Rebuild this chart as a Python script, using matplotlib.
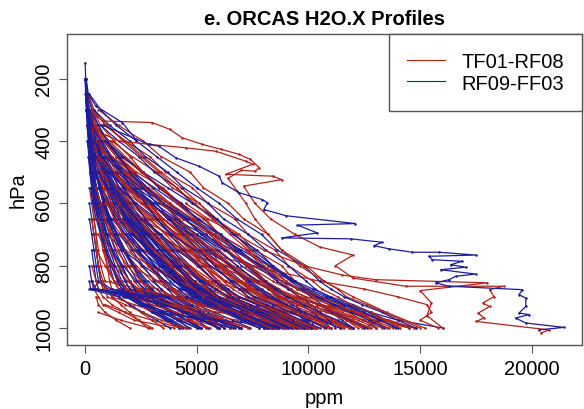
import numpy as np
import matplotlib
matplotlib.use("Agg")
import matplotlib.pyplot as plt
from matplotlib.lines import Line2D

plt.rcParams['font.family'] = ['Liberation Sans', 'DejaVu Sans']

N = None
TITLE = "e. ORCAS H2O.X Profiles"
XLABEL = "ppm"
YLABEL = "hPa"
SERIES = ["TF01-RF08", "RF09-FF03"]
RED = "#B0231B"
BLUE = "#1C1C9C"
XTICKS = [0, 5000, 10000, 15000, 20000]
YTICKS = [200, 400, 600, 800, 1000]

# pressure levels (hPa) shared by the gridded profiles
P_LEVELS = [150, 200, 250, 300, 350, 400, 450, 500, 550, 600, 650, 700, 750,
            800, 850, 875, 900, 925, 950, 975, 1000]

# TF01-RF08 profiles, H2O (ppm) at P_LEVELS
red_ppm = [
    [N, 40, 120, 350, 700, 1300, 2000, 2600, 3300, 4200, 5000, 5600, 6300, 7200, 8000, 8600, 9500, 10400, 11300, 12200, 13000],
    [N, N, 80, 200, 400, 700, 1100, 1600, 2200, 2900, 3500, 4300, 5100, 5900, 6700, 7100, 7500, 8200, 8900, 9500, 10100],
    [N, N, N, 150, 300, 500, 800, 1200, 1500, 1900, 2400, 3000, 3700, 4200, 4900, 5400, 5900, 6600, 7100, 7600, 8100],
    [N, N, N, N, 250, 350, 450, 600, 900, 1300, 1600, 2000, 2600, 3100, 3500, 3800, 4200, 4700, 5300, 5800, 6200],
    [N, N, N, N, N, 300, 400, 500, 700, 800, 1000, 1200, 1500, 1800, 2200, 2500, 2900, 3300, 3800, 4200, 4600],
    [N, N, 60, 150, 250, 400, 700, 1100, 1800, 2500, 3300, 4100, 4800, 5300, 5900, 6200, 6500, 7400, 8300, 9000, 9800],
    [N, N, N, 100, 200, 300, 500, 900, 1300, 2000, 2800, 3700, 4600, 5600, 6600, 7200, 7800, 8600, 9600, 10400, 11000],
    [N, N, N, N, 200, 250, 300, 400, 500, 500, 600, 800, 900, 1000, 1100, 1200, 3000, 4200, 5000, 5600, 6000],
    [N, N, N, N, N, 200, 300, 400, 500, 600, 600, 700, 800, 1000, 1300, 1500, 1700, 3500, 5200, 6800, 7800],
    [N, N, N, 120, 400, 900, 1500, 2200, 3000, 3800, 4500, 5200, 6000, 6800, 7600, 8300, 9000, 10000, 11000, 11800, 12500],
    [N, N, N, N, 300, 600, 1000, 1400, 1800, 2200, 2700, 3200, 3600, 4100, 4700, 5200, 5800, 6500, 7200, 7800, 8500],
    [N, N, N, N, N, N, 200, 300, 300, 400, 400, 500, 500, 600, 700, 800, 1500, 2000, 2500, 3000, 3500],
    [N, N, N, N, N, 300, 600, 800, 1100, 1500, 2000, 2500, 3100, 3800, 4500, 5000, 5500, 6200, 7000, 7500, 8000],
    [N, N, N, N, N, N, 400, 700, 1000, 1600, 2200, 2900, 3600, 4400, 5400, 5900, 6400, 7300, 8200, 8800, 9400],
    [N, N, 150, 400, 900, 1800, 2600, 3400, 4300, 5100, 5900, 6700, 7400, 8200, 9000, 9600, 10300, 11200, 12100, 12900, 13800],
    [N, N, N, N, N, N, N, 300, 500, 700, 900, 1300, 1700, 2100, 2600, 3000, 3400, 3800, 4300, 4700, 5200],
    [N, N, N, N, N, N, N, N, 200, 300, 400, 500, 600, 700, 900, 2500, 3200, 3800, 4400, 5000, 5500],
    [N, N, N, N, 200, 500, 1000, 1500, 2100, 2700, 3400, 4000, 4800, 5500, 6300, 6900, 7600, 8600, 9800, 10800, 11800],
    [N, N, N, N, N, N, 500, 900, 1400, 1900, 2600, 3400, 4200, 5000, 5800, 6300, 6900, 7800, 8800, 9600, 10400],
    [N, N, N, N, N, N, N, N, 400, 700, 1100, 1600, 2000, 2500, 3200, 3700, 4300, 5000, 5700, 6300, 7000],
    [N, N, N, N, N, N, N, N, N, N, 300, 400, 500, 600, 800, 1000, 1200, 1600, 2000, 2400, 2800],
    [N, N, N, N, N, N, N, 400, 700, 1200, 1800, 2500, 3200, 4000, 4900, 5400, 6000, 7200, 8300, 9200, 10000],
    [N, N, N, N, N, 400, 800, 1300, 1900, 2600, 3300, 4000, 4700, 5300, 6000, 6400, 6800, 7800, 9000, 10400, 11500],
    [N, N, N, N, N, N, N, N, N, N, N, N, N, 300, 500, 600, 800, 1200, 1800, 2400, 3000],
    [N, N, N, N, N, N, N, N, 600, 1000, 1600, 2300, 3100, 3900, 4800, 5300, 5800, 6600, 7500, 8300, 9200],
    [N, N, N, N, N, N, N, N, N, 500, 800, 1200, 1700, 2300, 3000, 3400, 3900, 4500, 5100, 5700, 6200],
    [N, N, N, N, N, N, N, N, N, N, N, 600, 900, 1300, 1900, 2300, 2600, 3300, 4100, 4800, 5400],
    [N, N, N, N, N, N, N, N, N, N, N, N, 500, 900, 1300, 1700, 2100, 3500, 4800, 6000, 7000],
    [N, N, N, N, N, N, N, N, N, N, N, N, N, N, 300, 400, 600, 800, 1500, 2200, 4000],
    [N, N, N, N, N, N, N, N, 1500, 2500, 3500, 4500, 5500, 6600, 7800, 8500, 9300, 10500, 11800, 13000, 14500],
    [N, N, N, N, N, N, N, N, N, N, N, 3000, 4500, 6000, 7500, 8400, 9300, 10500, 11500, 12500, 13000],
    [N, N, N, N, N, N, N, N, N, N, N, N, 5000, 7500, 10500, 12500, 14000, 15300, 15500, 15000, 15800],
    [N, N, N, 200, 500, 1000, 1700, 2500, 3400, 4300, 5300, 6000, 6600, 7300, 8100, 8300, 8800, 9500, 10400, 11200, 12000],
    [N, N, N, N, 350, 800, 1400, 2100, 2600, 3500, 4100, 4700, 5600, 6100, 6900, 7300, 7900, 8500, 9300, 10000, 10700],
    [N, N, N, N, N, 500, 900, 1600, 2400, 2900, 3800, 4600, 5200, 6100, 6800, 7400, 8100, 8900, 9900, 10800, 11600],
    [N, N, N, N, N, N, 700, 1200, 1900, 2800, 3500, 4400, 5300, 5900, 6900, 7600, 8300, 9200, 10100, 11000, 11900],
    [N, N, N, N, N, N, N, 800, 1500, 2200, 3000, 3900, 4500, 5400, 6200, 6600, 7200, 8000, 8700, 9300, 9900],
    [N, N, N, N, N, N, N, N, 900, 1500, 2300, 3100, 3900, 4500, 5400, 5800, 6500, 7300, 8200, 9100, 9900],
    [N, N, N, N, N, N, N, N, N, 1100, 1900, 2800, 3600, 4600, 5500, 6100, 6800, 7700, 8600, 9500, 10300],
    [N, N, N, N, N, N, N, N, N, N, 1300, 2200, 3200, 4100, 5200, 5800, 6500, 7400, 8400, 9200, 10100],
    [N, N, N, N, N, N, N, N, N, N, N, 1500, 2600, 3600, 4700, 5200, 6000, 7000, 8100, 9100, 10200],
    [N, N, N, N, N, N, N, N, N, N, N, N, 1800, 2900, 4100, 4800, 5600, 6500, 7600, 8600, 9600],
    [N, N, N, N, N, N, N, N, N, N, N, N, N, 2000, 3300, 4000, 4800, 5800, 6900, 7900, 8700],
    [N, N, N, N, N, N, N, N, N, N, N, N, N, N, 2400, 3200, 4000, 5100, 6300, 7400, 8300],
    [N, N, N, N, N, N, N, N, N, N, N, N, N, N, N, 1800, 2700, 3800, 5000, 6200, 7300],
    [N, N, N, N, N, N, N, N, N, N, N, N, N, N, N, N, 1200, 2200, 3300, 4500, 5600],
    [N, N, N, N, N, N, N, N, N, N, N, N, N, N, N, N, N, 900, 1800, 3000, 4300],
    [N, N, N, N, N, N, N, N, N, N, N, N, N, N, N, N, N, N, 600, 1600, 2900],
    [N, N, N, N, N, N, N, N, N, N, N, N, N, N, N, N, 500, 600, 900, 1400, 2000],
    [N, N, N, N, N, N, N, N, N, N, N, N, N, N, 700, 900, 1000, 1800, 2600, 3400, 4500],
    [N, N, N, N, N, N, N, N, N, N, N, N, 800, 1200, 1600, 1900, 2300, 3000, 4000, 5000, 6000],
    [N, N, N, N, N, N, N, N, N, N, 600, 800, 1100, 1500, 2000, 2400, 2800, 3600, 4600, 5500, 6500],
    [N, N, N, N, N, N, N, N, 500, 700, 900, 1100, 1400, 1900, 2500, 2800, 3300, 4100, 5200, 6300, 7300],
    [N, N, N, N, N, N, 500, 600, 800, 1000, 1300, 1700, 2200, 2800, 3500, 3900, 4400, 5300, 6400, 7500, 8600],
    [N, N, N, N, 300, 400, 600, 900, 1300, 1800, 2400, 3000, 3800, 4700, 5700, 6300, 6900, 8000, 9200, 10600, 12000],
    [N, N, N, 250, 500, 900, 1400, 2000, 2700, 3500, 4400, 5400, 6300, 7300, 8400, 9100, 9900, 11000, 12300, 13600, 14800],
    [N, N, N, N, N, N, N, N, N, N, N, N, N, N, 5500, 7000, 8300, 9600, 10800, 11900, 12800],
    [N, N, N, N, N, N, N, N, N, N, N, N, 4000, 5500, 7000, 7800, 8600, 9800, 11200, 12500, 13600],
    [N, N, N, N, N, N, N, N, N, N, 2500, 3800, 5000, 6300, 7600, 8400, 9200, 10600, 12000, 13400, 14700],
    [N, N, N, N, N, N, N, 1800, 2800, 3800, 4800, 5800, 6800, 7700, 8600, 9200, 9800, 10500, 11200, 11700, 12200],
    [N, N, N, N, N, N, N, N, N, N, N, N, N, N, N, N, N, 4000, 6000, 8000, 9500],
    [N, N, N, N, N, N, N, N, N, N, N, N, N, N, N, 2500, 4000, 5500, 7000, 8500, 10000],
    [N, N, N, 600, 1500, 2600, 3400, 4700, 5300, 6400, 7100, 8200, 8800, 9900, 10700, 11300, 11700, 12600, 13400, 14200, 15000],
    [N, N, N, N, 900, 1800, 2900, 3600, 4800, 5500, 6700, 7300, 8500, 9100, 10200, 10600, 11300, 11900, 12800, 13500, 14100],
    [N, N, N, N, N, 1200, 2100, 3200, 3900, 5100, 5800, 6900, 7600, 8800, 9400, 9900, 10500, 11400, 12000, 12900, 13500],
    [N, N, N, N, N, N, 1500, 2300, 3500, 4200, 5400, 6000, 7200, 7900, 9000, 9500, 10200, 10900, 11800, 12400, 13300],
    [N, N, N, N, N, N, N, 1700, 2600, 3700, 4400, 5600, 6300, 7400, 8100, 8700, 9200, 10100, 10900, 11700, 12400],
    [N, N, N, N, N, N, N, N, 2000, 2800, 3900, 4700, 5800, 6600, 7500, 8200, 8600, 9500, 10300, 11200, 11900],
    [N, N, N, N, N, N, N, N, N, 2200, 3100, 4200, 4900, 6000, 6800, 7500, 8100, 8800, 9800, 10500, 11400],
    [N, N, N, N, N, N, N, N, N, N, 2500, 3300, 4400, 5200, 6300, 6900, 7600, 8400, 9200, 10100, 10900],
    [N, N, N, N, N, N, N, N, N, N, N, 2700, 3600, 4600, 5500, 6200, 6900, 7800, 8700, 9500, 10400],
    [N, N, N, N, N, N, N, N, N, N, N, N, 2900, 3900, 4800, 5600, 6300, 7100, 8000, 9000, 9900],
    [N, N, N, N, N, N, N, N, N, N, N, N, N, 3100, 4200, 4900, 5700, 6500, 7500, 8400, 9300],
    [N, N, N, 300, 1000, 1700, 2500, 3300, 4100, 4900, 5700, 6500, 7300, 8000, 8800, 9200, 9600, 10400, 11200, 12000, 12700],
    [N, N, N, N, 400, 1100, 1800, 2600, 3400, 4100, 4900, 5700, 6400, 7200, 7900, 8300, 8800, 9500, 10300, 11000, 11800],
    [N, N, N, N, N, 500, 1200, 1900, 2700, 3400, 4200, 4900, 5700, 6400, 7200, 7500, 8000, 8800, 9500, 10300, 11000],
    [N, N, N, N, N, N, 600, 1300, 2000, 2800, 3500, 4300, 5000, 5800, 6500, 6900, 7300, 8000, 8800, 9500, 10300],
    [N, N, N, N, N, N, N, 700, 1400, 2100, 2900, 3600, 4300, 5100, 5800, 6200, 6600, 7300, 8100, 8800, 9600],
    [N, N, N, N, N, N, N, N, 800, 1500, 2200, 3000, 3700, 4400, 5200, 5500, 5900, 6700, 7400, 8200, 8900],
    [N, N, N, N, N, N, N, N, N, 900, 1600, 2300, 3100, 3800, 4500, 4900, 5300, 6000, 6800, 7500, 8300],
]

# RF09-FF03 profiles, H2O (ppm) at P_LEVELS
blue_ppm = [
    [10, 30, 80, 200, 350, 600, 900, 1300, 1700, 2200, 2700, 3300, 4000, 4700, 5400, 5900, 6400, 7100, 7900, 8600, 9300],
    [N, 20, 60, 150, 300, 450, 650, 900, 1200, 1500, 1900, 2300, 2800, 3400, 4000, 4400, 4800, 5600, 6500, 7300, 8000],
    [N, N, 40, 100, 200, 300, 450, 650, 900, 1200, 1500, 1900, 2400, 2900, 3500, 3900, 4300, 5000, 5800, 6600, 7400],
    [N, N, N, 80, 150, 250, 350, 500, 700, 900, 1100, 1400, 1700, 2100, 2500, 2800, 3100, 3700, 4500, 5300, 6000],
    [N, 30, 100, 300, 600, 1000, 1500, 2100, 2800, 3500, 4200, 4900, 5700, 6500, 7300, 7800, 8300, 9000, 9600, 10000, 10100],
    [N, N, N, 60, 120, 200, 300, 400, 500, 650, 800, 1000, 1200, 1500, 1800, 2000, 3800, 4500, 5000, 5500, 6000],
    [N, N, N, N, 100, 150, 200, 300, 400, 500, 600, 700, 900, 1100, 1300, 1500, 4200, 5200, 6200, 7300, 8200],
    [N, 15, 50, 120, 250, 400, 600, 850, 1150, 1500, 1900, 2400, 3000, 3600, 4300, 4700, 5200, 6000, 6900, 7700, 8500],
    [N, N, 30, 90, 180, 320, 500, 750, 1050, 1400, 1800, 2300, 2900, 3500, 4200, 4600, 5100, 5900, 6800, 7600, 8400],
    [N, N, N, N, N, 100, 180, 260, 380, 520, 700, 950, 1250, 1600, 2000, 2300, 2600, 3200, 3900, 4500, 5200],
    [N, N, N, N, N, N, 150, 220, 300, 420, 600, 850, 1200, 1700, 2300, 2700, 3200, 4000, 5000, 6000, 7000],
    [N, N, N, N, 200, 500, 1000, 1700, 2500, 3500, 4700, 5800, 7000, 8200, 9400, 10200, 11000, 12000, 12800, 13500, 14500],
    [N, N, N, N, N, 300, 700, 1300, 2000, 2900, 3900, 5000, 6200, 7500, 8800, 9600, 10400, 11500, 12400, 12800, 13000],
    [N, N, N, N, N, N, 500, 1000, 1800, 2800, 4000, 5300, 6600, 7900, 9300, 10000, 10800, 11800, 12700, 13300, 14000],
    [N, 20, 70, 180, 400, 750, 1200, 1700, 2300, 3000, 3700, 4500, 5300, 6200, 7000, 7500, 8000, 8800, 9400, 9800, 10000],
    [N, N, N, N, N, N, N, 300, 500, 700, 1000, 1300, 1700, 2200, 2800, 3200, 3600, 4300, 5200, 6000, 6900],
    [N, N, N, N, N, N, N, N, 250, 350, 500, 700, 900, 1200, 1500, 1800, 2100, 2600, 3200, 3700, 4200],
    [N, N, N, N, N, N, N, N, N, 200, 300, 400, 500, 600, 700, 300, 2500, 3200, 3900, 4500, 5100],
    [N, N, N, N, N, N, N, N, N, N, 200, 300, 400, 500, 600, 1000, 4000, 4800, 5500, 6200, 6900],
    [N, N, N, N, N, N, N, N, N, N, N, N, 300, 400, 500, 600, 2000, 2800, 3600, 4300, 5000],
    [N, N, N, N, N, N, N, N, N, N, N, N, N, 200, 300, 400, 3000, 3800, 4600, 5300, 5900],
    [N, N, N, N, N, 200, 400, 650, 950, 1300, 1750, 2250, 2800, 3400, 4100, 4600, 5100, 6000, 7000, 7900, 8800],
    [N, N, N, N, N, N, 300, 500, 750, 1050, 1400, 1800, 2300, 2900, 3600, 4000, 4500, 5300, 6200, 7000, 7800],
    [N, N, N, N, N, N, N, 400, 700, 1100, 1600, 2200, 2900, 3700, 4600, 5100, 5700, 6700, 7800, 8700, 9500],
    [N, N, N, N, N, N, N, N, 600, 1000, 1500, 2100, 2800, 3600, 4500, 5000, 5600, 6800, 8000, 9000, 9900],
    [N, N, N, N, N, N, N, N, N, 700, 1200, 1800, 2500, 3300, 4200, 4800, 5400, 6500, 7700, 8800, 9800],
    [N, N, N, N, N, N, N, N, N, N, 900, 1500, 2200, 3000, 4000, 4600, 5300, 6400, 7600, 8700, 9700],
    [N, N, N, N, N, N, N, N, N, N, N, 1000, 1700, 2600, 3600, 4300, 5000, 6300, 7500, 8600, 10000],
    [N, N, N, N, 300, 800, 1600, 2600, 3700, 4800, 5800, 6700, 7500, 8400, 9300, 9900, 10600, 11600, 12800, 14000, 16000],
    [N, N, N, N, N, 500, 1200, 2100, 3100, 4100, 5100, 6000, 6900, 7800, 8800, 9500, 10200, 11200, 12300, 13200, 12500],
    [N, N, N, N, N, N, N, N, N, N, N, N, N, N, 600, 1200, 2500, 3500, 4500, 5500, 6500],
    [N, N, N, N, N, N, N, N, N, N, N, N, N, N, N, 200, 1500, 2000, 2600, 3200, 3800],
    [N, 10, 40, 100, 220, 380, 580, 800, 1000, 1300, 1600, 2000, 2400, 2900, 3400, 3700, 4000, 4600, 5300, 5900, 6500],
    [N, N, 20, 70, 150, 270, 420, 600, 800, 1050, 1350, 1700, 2100, 2600, 3100, 3400, 3700, 4300, 5000, 5600, 6200],
    [N, N, N, 50, 120, 220, 340, 480, 650, 850, 1100, 1400, 1750, 2150, 2600, 2900, 3200, 3800, 4400, 5000, 5500],
    [N, 10, 30, 80, 160, 260, 380, 520, 700, 900, 1150, 1450, 1800, 2200, 2700, 3000, 3300, 3900, 4600, 5300, 6000],
    [N, N, 25, 70, 140, 230, 340, 470, 630, 820, 1050, 1300, 1600, 1950, 2350, 2600, 2900, 3400, 4000, 4600, 5200],
    [N, N, N, 60, 110, 190, 280, 390, 520, 680, 870, 1100, 1350, 1650, 2000, 2200, 2400, 2900, 3500, 4100, 4700],
    [N, N, N, N, 90, 160, 240, 340, 460, 600, 770, 970, 1200, 1480, 1800, 2000, 2200, 2700, 3300, 3900, 4500],
    [N, N, N, N, N, 130, 200, 290, 400, 530, 690, 880, 1100, 1350, 1650, 1850, 2050, 2600, 3200, 3800, 4400],
    [N, N, N, N, N, N, 170, 250, 350, 470, 620, 800, 1000, 1250, 1550, 1750, 1950, 2500, 3100, 3700, 4300],
    [N, N, N, N, N, N, N, 220, 310, 420, 560, 730, 930, 1170, 1450, 1650, 1850, 2400, 3000, 3600, 4200],
    [N, 20, 60, 150, 300, 520, 800, 1150, 1550, 2000, 2500, 3100, 3700, 4400, 5100, 5500, 6000, 6800, 7600, 8400, 9100],
    [N, N, 50, 130, 270, 470, 730, 1050, 1420, 1850, 2350, 2900, 3500, 4200, 4900, 5300, 5800, 6600, 7500, 8300, 9000],
    [N, N, N, 110, 240, 430, 680, 990, 1350, 1770, 2250, 2800, 3400, 4100, 4800, 5200, 5700, 6500, 7300, 8100, 8900],
    [N, N, N, N, 220, 400, 640, 950, 1300, 1700, 2150, 2650, 3200, 3800, 4500, 4900, 5300, 6100, 6900, 7600, 8300],
    [N, N, N, N, N, 380, 620, 930, 1290, 1700, 2200, 2750, 3350, 4000, 4700, 5100, 5600, 6400, 7300, 8100, 8900],
    [N, N, N, N, N, N, 600, 900, 1250, 1650, 2100, 2600, 3150, 3750, 4400, 4800, 5200, 6000, 6900, 7700, 8400],
    [N, N, N, N, N, N, N, 850, 1200, 1600, 2050, 2550, 3100, 3700, 4350, 4750, 5150, 5950, 6850, 7650, 8350],
    [N, N, N, N, N, N, N, N, 1100, 1500, 1950, 2450, 3000, 3600, 4250, 4650, 5050, 5850, 6750, 7550, 8250],
    [N, N, N, N, N, N, N, N, N, 1400, 1850, 2350, 2900, 3500, 4150, 4550, 4950, 5750, 6650, 7450, 8150],
    [N, N, N, N, N, N, N, N, N, N, 1700, 2200, 2750, 3350, 4000, 4400, 4800, 5600, 6500, 7300, 8000],
    [N, N, N, N, N, N, N, N, N, N, N, 2000, 2550, 3150, 3800, 4200, 4600, 5400, 6300, 7100, 7800],
    [N, N, N, N, N, 600, 1100, 1800, 2700, 3700, 4800, 6000, 7200, 8300, 9200, 9700, 10100, 10600, 11000, 11500, 12000],
    [N, N, N, N, N, N, 900, 1600, 2500, 3500, 4600, 5700, 6700, 7700, 8600, 9100, 9600, 10100, 10500, 10900, 11200],
    [N, N, N, N, N, N, N, 1400, 2300, 3300, 4400, 5400, 6300, 7200, 8100, 8600, 9100, 9700, 10200, 10600, 11000],
    [N, N, N, N, N, N, N, N, 2100, 3100, 4100, 5000, 5900, 6800, 7700, 8200, 8700, 9300, 9800, 10100, 10300],
    [N, N, N, N, N, N, N, N, N, 2900, 3900, 4800, 5600, 6500, 7400, 7900, 8400, 9000, 9600, 9900, 10100],
    [N, N, N, N, N, N, N, N, N, N, N, N, N, N, N, 300, 2800, 3600, 4400, 5200, 6000],
    [N, N, N, N, N, N, N, N, N, N, N, N, N, N, 200, 250, 3500, 4300, 5100, 5900, 6700],
    [N, N, N, N, N, N, N, N, N, N, N, N, N, N, N, 400, 1800, 2600, 3400, 4200, 5000],
    [N, N, N, N, N, N, N, N, N, N, N, N, N, N, 300, 500, 2200, 3400, 4600, 5800, 7000],
    [N, N, N, N, N, N, N, N, N, N, N, N, N, N, N, N, 4500, 5500, 6500, 7600, 8700],
    [N, N, N, N, N, N, N, N, N, N, N, N, N, N, N, N, N, 2500, 3800, 5200, 6600],
    [N, N, N, N, N, N, N, N, N, N, N, N, N, N, N, N, N, N, 3000, 6000, 9500],
    [N, N, 200, 700, 1400, 2300, 3200, 4100, 5000, 6000, 6800, 7900, 8600, 9800, 10500, 11000, 11600, 12400, 13300, 14000, 14800],
    [N, N, N, 400, 1100, 2000, 2700, 3700, 4400, 5500, 6200, 7300, 8100, 9100, 9900, 10300, 10900, 11600, 12500, 13200, 13900],
    [N, N, N, N, 700, 1500, 2400, 3100, 4100, 4800, 5900, 6600, 7700, 8400, 9400, 9800, 10400, 11100, 11900, 12700, 13400],
    [N, N, N, N, N, 900, 1700, 2600, 3300, 4300, 5000, 6100, 6800, 7900, 8600, 9100, 9600, 10400, 11100, 11900, 12600],
    [N, N, N, N, N, N, 1100, 1900, 2800, 3500, 4500, 5200, 6300, 7000, 8000, 8500, 9000, 9800, 10500, 11300, 12000],
    [N, N, N, N, N, N, N, 1300, 2100, 3000, 3700, 4700, 5400, 6500, 7200, 7700, 8200, 9000, 9800, 10600, 11400],
    [N, N, N, N, N, N, N, N, 1500, 2300, 3200, 3900, 4900, 5600, 6600, 7100, 7600, 8400, 9200, 10000, 10800],
    [N, N, N, N, N, N, N, N, N, 1700, 2500, 3400, 4100, 5100, 5800, 6400, 6900, 7700, 8500, 9300, 10100],
    [N, N, N, N, N, N, N, N, N, N, 1900, 2700, 3600, 4300, 5300, 5800, 6400, 7100, 8000, 8800, 9600],
    [N, N, N, N, N, N, N, N, N, N, N, 2100, 2900, 3800, 4500, 5100, 5700, 6500, 7400, 8300, 9100],
    [N, N, N, N, N, N, N, N, N, N, N, N, 2300, 3100, 4000, 4500, 5100, 5900, 6800, 7700, 8600],
    [N, N, N, 200, 600, 1000, 1500, 2000, 2600, 3200, 3800, 4400, 5100, 5800, 6500, 6900, 7300, 8100, 8900, 9700, 10500],
    [N, N, N, N, 300, 700, 1100, 1600, 2100, 2700, 3200, 3800, 4400, 5100, 5800, 6200, 6600, 7400, 8200, 9000, 9800],
    [N, N, N, N, N, 400, 800, 1200, 1700, 2200, 2700, 3300, 3900, 4500, 5200, 5600, 6000, 6800, 7600, 8400, 9200],
    [N, N, N, N, N, N, 500, 900, 1300, 1800, 2300, 2800, 3400, 4000, 4700, 5000, 5400, 6200, 7000, 7800, 8600],
    [N, N, N, N, N, N, N, 600, 1000, 1400, 1900, 2400, 2900, 3500, 4200, 4500, 4900, 5600, 6400, 7200, 8000],
]

# individual outlying profiles (pressure hPa, H2O ppm)
red_x1_p = [300, 320, 336, 341, 363, 390, 411, 427, 443, 459, 486, 497, 494, 520, 560, 600, 650, 700, 750, 800, 850, 900, 950, 1000]
red_x1_v = [300, 500, 800, 3000, 3800, 4350, 5250, 6100, 6900, 7400, 7800, 7600, 7000, 6400, 6800, 7200, 7600, 8200, 8800, 9600, 10700, 12000, 13500, 15200]
red_x2_p = [380, 400, 411, 422, 433, 465, 475, 507, 513, 524, 545, 600, 650, 700, 740, 766, 800, 840, 866, 866, 877, 899, 920, 931, 952, 968, 979, 1006, 1016]
red_x2_v = [900, 1500, 2900, 4500, 5850, 7200, 7500, 6300, 8400, 8800, 7100, 7600, 8300, 9400, 10500, 12000, 11200, 12000, 14350, 18750, 18100, 18300, 17800, 18100, 17600, 17850, 17500, 20760, 20400]
red_x3_p = [600, 650, 700, 750, 800, 830, 845, 855, 880, 920, 960, 1000]
red_x3_v = [4500, 5500, 6800, 8000, 9800, 11500, 13000, 18000, 15000, 15500, 15300, 16000]
blue_x1_p = [200, 250, 288, 341, 395]
blue_x1_v = [50, 150, 480, 1670, 2270]
blue_x2_p = [350, 411, 417, 454, 481, 513, 534, 566, 588, 598, 620, 640, 665, 670, 695, 711, 714, 725, 736, 746, 757, 757, 766, 770, 781, 786, 797, 805, 813, 827, 834, 845, 855, 866, 877, 893, 904, 931, 952, 957, 968, 984, 998, 1006]
blue_x2_v = [800, 2860, 3310, 4060, 5100, 6000, 6140, 6890, 7930, 8160, 8000, 9000, 12100, 9500, 10400, 8800, 11890, 13300, 12930, 13600, 14645, 15840, 17480, 15390, 15540, 16880, 16360, 17030, 15910, 17480, 16590, 16290, 15690, 16290, 19570, 19420, 19720, 19720, 19420, 19870, 19270, 19720, 21430, 20310]

fig = plt.figure(figsize=(5.84, 4.10), dpi=100)
ax = fig.add_axes([67/584, 64/410, (582-67)/584, (346-35)/410])

kw = dict(lw=0.9, marker='o', ms=1.8, mew=0)
P = np.array(P_LEVELS, dtype=float)
nmax = max(len(red_ppm), len(blue_ppm))
for i in range(nmax):
    if i < len(red_ppm):
        ax.plot(np.array(red_ppm[i], dtype=float), P, color=RED, **kw)
    if i < len(blue_ppm):
        ax.plot(np.array(blue_ppm[i], dtype=float), P, color=BLUE, **kw)
ax.plot(red_x1_v, red_x1_p, color=RED, **kw)
ax.plot(red_x2_v, red_x2_p, color=RED, **kw)
ax.plot(red_x3_v, red_x3_p, color=RED, **kw)
ax.plot(blue_x1_v, blue_x1_p, color=BLUE, **kw)
ax.plot(blue_x2_v, blue_x2_p, color=BLUE, **kw)

ax.set_xlim(-805, 22237)
ax.set_ylim(1054.5, 57)
ax.set_xticks(XTICKS)
ax.set_xticklabels([str(v) for v in XTICKS])
ax.set_yticks(YTICKS)
ax.set_yticklabels([str(v) for v in YTICKS], rotation=90, va='center')

fc = '#555555'
for s in ax.spines.values():
    s.set_color(fc)
    s.set_linewidth(1.0)
ax.tick_params(length=6, width=0.8, color=fc, labelsize=14.5, pad=4)

ax.set_title(TITLE, fontsize=14.5, fontweight='bold', pad=7)
ax.set_xlabel(XLABEL, fontsize=14.5, labelpad=7.5)
ax.set_ylabel(YLABEL, fontsize=14.5, labelpad=4.5)

handles = [Line2D([], [], color=RED, lw=0.8), Line2D([], [], color=BLUE, lw=0.8)]
leg = ax.legend(handles, SERIES, loc='upper right', bbox_to_anchor=(1.0, 1.0),
                borderaxespad=0, fancybox=False, framealpha=1, edgecolor=fc,
                fontsize=14.5, handlelength=1.9, handletextpad=0.8,
                borderpad=0.9, labelspacing=0.12)
leg.get_frame().set_linewidth(1.0)

fig.savefig("out.png", dpi=100)
